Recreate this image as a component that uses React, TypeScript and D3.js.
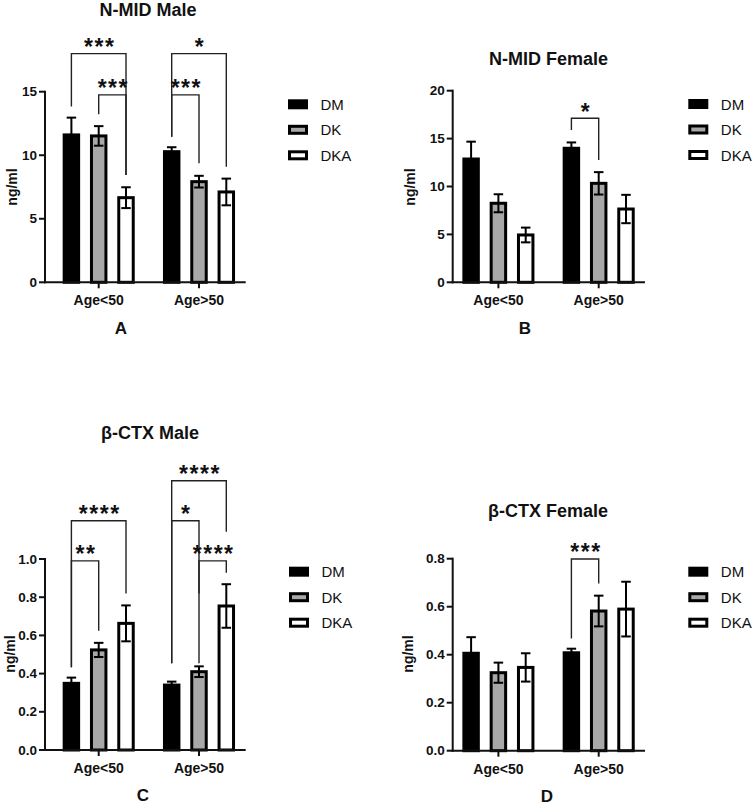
import React from "react";
import * as d3 from "d3";

const groups = ["Age<50", "Age>50"];
const series = ["DM", "DK", "DKA"];
const seriesFill = ["#000000", "#a8a8a8", "#ffffff"];

// Panel A: N-MID Male
const nmidMaleMean = [[11.6, 11.52, 6.66], [10.28, 7.92, 7.11]];
const nmidMaleErr = [[1.36, 0.77, 0.82], [0.35, 0.46, 1.05]];
const nmidMaleTicks = [0, 5, 10, 15];
// Panel B: N-MID Female
const nmidFemaleMean = [[12.87, 8.25, 4.94], [13.99, 10.33, 7.65]];
const nmidFemaleErr = [[1.81, 0.94, 0.77], [0.61, 1.17, 1.48]];
const nmidFemaleTicks = [0, 5, 10, 15, 20];
// Panel C: β-CTX Male
const ctxMaleMean = [[0.349, 0.524, 0.663], [0.34, 0.41, 0.754]];
const ctxMaleErr = [[0.03, 0.037, 0.094], [0.018, 0.028, 0.114]];
const ctxMaleTicks = [0, 0.2, 0.4, 0.6, 0.8, 1.0];
// Panel D: β-CTX Female
const ctxFemaleMean = [[0.406, 0.325, 0.347], [0.408, 0.582, 0.59]];
const ctxFemaleErr = [[0.067, 0.042, 0.059], [0.017, 0.064, 0.114]];
const ctxFemaleTicks = [0, 0.2, 0.4, 0.6, 0.8];

// significance brackets: group, from series, to series, top, left-leg end, right-leg end (data units), label
type Bracket = { g: number; a: number; b: number; top: number; l: number; r: number; label: string };
const nmidMaleBrackets: Bracket[] = [
  { g: 0, a: 0, b: 2, top: 18.0, l: 13.83, r: 8.45, label: "***" },
  { g: 0, a: 1, b: 2, top: 14.75, l: 13.23, r: 8.45, label: "***" },
  { g: 1, a: 0, b: 2, top: 18.0, l: 11.46, r: 9.1, label: "*" },
  { g: 1, a: 0, b: 1, top: 14.75, l: 11.46, r: 9.37, label: "***" },
];
const nmidFemaleBrackets: Bracket[] = [
  { g: 1, a: 0, b: 1, top: 17.12, l: 15.9, r: 12.77, label: "*" },
];
const ctxMaleBrackets: Bracket[] = [
  { g: 0, a: 0, b: 2, top: 1.2, l: 0.433, r: 0.82, label: "****" },
  { g: 0, a: 0, b: 1, top: 0.99, l: 0.433, r: 0.625, label: "**" },
  { g: 1, a: 0, b: 2, top: 1.41, l: 0.454, r: 1.143, label: "****" },
  { g: 1, a: 0, b: 1, top: 1.2, l: 0.454, r: 0.454, label: "*" },
  { g: 1, a: 1, b: 2, top: 0.99, l: 0.82, r: 0.928, label: "****" },
];
const ctxFemaleBrackets: Bracket[] = [
  { g: 1, a: 0, b: 1, top: 0.799, l: 0.468, r: 0.697, label: "***" },
];

const FONT = "'Liberation Sans', Arial, Helvetica, sans-serif";

type PanelProps = {
  title: string;
  letter: string;
  mean: number[][];
  err: number[][];
  ticks: number[];
  fmt: (v: number) => string;
  brackets: Bracket[];
  axisX: number;
  axisRight: number;
  centers: [number, number];
  yRange: [number, number];
  titlePos: [number, number];
  yLabelPos: [number, number];
  letterPos: [number, number];
  legendPos: [number, number];
};

function Panel(p: PanelProps) {
  const maxT = p.ticks[p.ticks.length - 1];
  const y = d3.scaleLinear().domain([0, maxT]).range(p.yRange);
  const gx = d3.scalePoint<string>().domain(groups).range(p.centers).padding(0);
  const inner = d3
    .scaleBand<string>()
    .domain(series)
    .range([-40.95, 40.95])
    .paddingInner(0.47)
    .paddingOuter(0.235);
  const bw = inner.bandwidth();
  const barCx = (g: number, s: number) => (gx(groups[g]) as number) + (inner(series[s]) as number) + bw / 2;
  const y0 = y(0);
  const capW = 9.5;
  return (
    <g fontFamily={FONT}>
      <text x={p.titlePos[0]} y={p.titlePos[1]} textAnchor="middle" dominantBaseline="central" fontWeight="bold" fontSize={18} fill="#111">
        {p.title}
      </text>
      {/* y axis */}
      <line x1={p.axisX} x2={p.axisX} y1={y(maxT) - 1} y2={y0 + 1} stroke="#111" strokeWidth={2} />
      {p.ticks.map((t) => (
        <g key={"t" + t}>
          <line x1={p.axisX - 6} x2={p.axisX} y1={y(t)} y2={y(t)} stroke="#111" strokeWidth={2} />
          <text x={p.axisX - 8} y={y(t)} textAnchor="end" dominantBaseline="central" fontWeight="bold" fontSize={13.5} fill="#111">
            {p.fmt(t)}
          </text>
        </g>
      ))}
      <text
        transform={`translate(${p.yLabelPos[0]},${p.yLabelPos[1]}) rotate(-90)`}
        textAnchor="middle"
        dominantBaseline="central"
        fontWeight="bold"
        fontSize={14}
        fill="#111"
      >
        ng/ml
      </text>
      {/* bars */}
      {groups.map((g, gi) =>
        series.map((s, si) => {
          const v = p.mean[gi][si];
          const x = (gx(g) as number) + (inner(s) as number);
          return (
            <rect
              key={g + s}
              x={x}
              y={y(v)}
              width={bw}
              height={y0 - y(v)}
              fill={seriesFill[si]}
              stroke="#000"
              strokeWidth={3}
            />
          );
        })
      )}
      {/* error bars */}
      {groups.map((g, gi) =>
        series.map((s, si) => {
          const v = p.mean[gi][si];
          const e = p.err[gi][si];
          const cx = barCx(gi, si);
          return (
            <g key={"e" + g + s} stroke="#000" strokeWidth={2}>
              <line x1={cx} x2={cx} y1={y(v - e)} y2={y(v + e)} />
              <line x1={cx - capW / 2} x2={cx + capW / 2} y1={y(v + e)} y2={y(v + e)} />
              <line x1={cx - capW / 2} x2={cx + capW / 2} y1={y(v - e)} y2={y(v - e)} />
            </g>
          );
        })
      )}
      {/* x axis */}
      <line x1={p.axisX - 1} x2={p.axisRight} y1={y0} y2={y0} stroke="#111" strokeWidth={2} />
      {groups.map((g) => (
        <g key={"x" + g}>
          <line x1={gx(g)} x2={gx(g)} y1={y0} y2={y0 + 6} stroke="#111" strokeWidth={2} />
          <text x={gx(g)} y={y0 + 18} textAnchor="middle" dominantBaseline="central" fontWeight="bold" fontSize={14} fill="#111">
            {g}
          </text>
        </g>
      ))}
      {/* brackets */}
      {p.brackets.map((b, i) => {
        const x1 = barCx(b.g, b.a);
        const x2 = barCx(b.g, b.b);
        const yt = y(b.top);
        return (
          <g key={"b" + i}>
            <path d={`M${x1},${y(b.l)}V${yt}H${x2}V${y(b.r)}`} fill="none" stroke="#222" strokeWidth={1.4} />
            <text
              x={(x1 + x2) / 2 + 1}
              y={yt + 1.5}
              textAnchor="middle"
              fontSize={23}
              fontWeight="bold"
              letterSpacing={1.5}
              fill="#111"
            >
              {b.label}
            </text>
          </g>
        );
      })}
      {/* legend */}
      {series.map((s, si) => {
        const ly = p.legendPos[1] + si * 25.5;
        return (
          <g key={"l" + s}>
            <rect x={p.legendPos[0] + 1.5} y={ly - 3.5} width={17} height={7} fill={seriesFill[si]} stroke="#000" strokeWidth={3} />
            <text x={p.legendPos[0] + 32.5} y={ly} dominantBaseline="central" fontSize={15} fill="#111">
              {s}
            </text>
          </g>
        );
      })}
      <text x={p.letterPos[0]} y={p.letterPos[1]} textAnchor="middle" dominantBaseline="central" fontWeight="bold" fontSize={17} fill="#111">
        {p.letter}
      </text>
    </g>
  );
}

const intFmt = d3.format("d");
const decFmt = d3.format(".1f");

export default function App() {
  return (
    <svg width={753} height={807} style={{ position: "absolute", left: 0, top: 0, background: "#fff" }}>
      <rect width={753} height={807} fill="#fff" />
      <Panel
        title="N-MID Male"
        letter="A"
        mean={nmidMaleMean}
        err={nmidMaleErr}
        ticks={nmidMaleTicks}
        fmt={intFmt}
        brackets={nmidMaleBrackets}
        axisX={45}
        axisRight={245.7}
        centers={[98.7, 199]}
        yRange={[282.3, 91.7]}
        titlePos={[148, 9.5]}
        yLabelPos={[12, 187]}
        letterPos={[121, 328]}
        legendPos={[288, 104.3]}
      />
      <Panel
        title="N-MID Female"
        letter="B"
        mean={nmidFemaleMean}
        err={nmidFemaleErr}
        ticks={nmidFemaleTicks}
        fmt={intFmt}
        brackets={nmidFemaleBrackets}
        axisX={452.7}
        axisRight={645}
        centers={[498.4, 598.7]}
        yRange={[282.3, 90.7]}
        titlePos={[548.5, 59]}
        yLabelPos={[410, 187]}
        letterPos={[525, 328]}
        legendPos={[688.3, 104]}
      />
      <Panel
        title="β-CTX Male"
        letter="C"
        mean={ctxMaleMean}
        err={ctxMaleErr}
        ticks={ctxMaleTicks}
        fmt={decFmt}
        brackets={ctxMaleBrackets}
        axisX={45}
        axisRight={245.7}
        centers={[98.7, 199]}
        yRange={[750, 559]}
        titlePos={[150, 433.3]}
        yLabelPos={[10, 654]}
        letterPos={[143, 795]}
        legendPos={[289, 571.7]}
      />
      <Panel
        title="β-CTX Female"
        letter="D"
        mean={ctxFemaleMean}
        err={ctxFemaleErr}
        ticks={ctxFemaleTicks}
        fmt={decFmt}
        brackets={ctxFemaleBrackets}
        axisX={452.7}
        axisRight={645}
        centers={[498.4, 598.7]}
        yRange={[750.7, 558.7]}
        titlePos={[548, 511]}
        yLabelPos={[408, 654]}
        letterPos={[547, 796]}
        legendPos={[688.3, 571.7]}
      />
    </svg>
  );
}
